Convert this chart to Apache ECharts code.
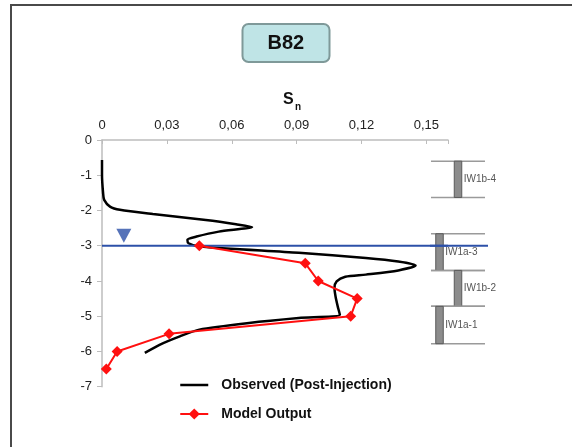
<!DOCTYPE html>
<html><head><meta charset="utf-8">
<script src="https://cdn.jsdelivr.net/npm/echarts@6/dist/echarts.min.js"></script>
<style>html,body{margin:0;padding:0;background:#fff}#c{width:572px;height:447px}</style>
</head><body><div id="c"></div>
<script>
// Observed (Post-Injection) profile: Sn value and depth
var obsS = [0, 0, 0.0005, 0.001, 0.0037, 0.0083, 0.0235, 0.048, 0.062, 0.0694, 0.054, 0.0437, 0.0395, 0.040, 0.045, 0.091, 0.122, 0.137, 0.145, 0.137, 0.122, 0.1125, 0.1085, 0.1075, 0.108, 0.109, 0.110, 0.091, 0.068, 0.045, 0.036, 0.0266, 0.0198];
var obsD = [-0.57, -1.0, -1.5, -1.7, -1.89, -1.98, -2.1, -2.27, -2.39, -2.47, -2.6, -2.74, -2.83, -2.93, -3.02, -3.2, -3.35, -3.45, -3.56, -3.7, -3.82, -3.88, -4.01, -4.2, -4.44, -4.72, -4.96, -5.05, -5.19, -5.38, -5.57, -5.81, -6.04];
// Model output
var modS = [0.045, 0.094, 0.100, 0.118, 0.115, 0.031, 0.007, 0.002];
var modD = [-3.0, -3.5, -4.0, -4.5, -5.0, -5.5, -6.0, -6.5];
// Water level
var waterDepth = -3;
var waterMarkS = 0.0101, waterMarkD = -2.72;
// Well screen intervals
var wellNames = ['IW1b-4', 'IW1a-3', 'IW1b-2', 'IW1a-1'];
var wellTop = [-0.6, -2.66, -3.7, -4.72];
var wellBottom = [-1.63, -3.7, -4.72, -5.78];
var wellType = ['b', 'a', 'b', 'a'];
// Axis ticks
var xTicks = [0, 0.03, 0.06, 0.09, 0.12, 0.15];
var yTicks = [0, -1, -2, -3, -4, -5, -6, -7];

function zip(a, b) { return a.map(function (v, i) { return [v, b[i]]; }); }

var chart = echarts.init(document.getElementById('c'), null, {renderer: 'canvas'});
var FONT = 'Liberation Sans, Arial, sans-serif';
var wellData = wellNames.map(function (n, i) { return [wellTop[i], wellBottom[i], wellType[i] === 'a' ? 0 : 1, i]; });

chart.setOption({
  backgroundColor: '#fff',
  animation: false,
  title: [{
    text: 'B82', left: 242, top: 24,
    padding: [9, 25.5],
    backgroundColor: '#bfe4e6', borderColor: '#7f9999', borderWidth: 2, borderRadius: 6,
    textStyle: {fontFamily: FONT, fontWeight: 'bold', fontSize: 20, color: '#111', lineHeight: 20}
  }],
  graphic: [
    {type: 'polyline', shape: {points: [[11, 447], [11, 5], [572, 5]]}, style: {stroke: '#4a4a4a', lineWidth: 2, fill: null}, silent: true},
    {type: 'text', left: 283, top: 92, style: {text: 'S', font: 'bold 16px ' + FONT, fill: '#111'}},
    {type: 'text', left: 295, top: 102, style: {text: 'n', font: 'bold 10px ' + FONT, fill: '#111'}}
  ],
  legend: {
    orient: 'vertical', left: 174, top: 373, itemWidth: 28, itemHeight: 14, itemGap: 15,
    data: [
      {name: 'Observed (Post-Injection)', itemStyle: {opacity: 0}, lineStyle: {width: 2.5}},
      {name: 'Model Output', lineStyle: {width: 2}}
    ],
    textStyle: {fontFamily: FONT, fontWeight: 'bold', fontSize: 14, color: '#111', padding: [0, 0, 0, 8]}
  },
  grid: [
    {left: 102, right: 124, top: 140, bottom: 60.3},
    {left: 430, width: 58, top: 140, bottom: 60.3}
  ],
  xAxis: [{
    type: 'value', position: 'top', min: 0, max: 0.16, interval: 0.03,
    axisLine: {lineStyle: {color: '#bdbdbd', width: 1.5}},
    axisTick: {inside: true, length: 4, lineStyle: {color: '#bdbdbd'}},
    splitLine: {show: false},
    axisLabel: {margin: 8, fontFamily: FONT, fontSize: 13, color: '#222',
      formatter: function (v) {
        if (v > 0.155) return '';
        if (Math.abs(v) < 1e-9) return '0';
        return v.toFixed(2).replace('.', ',');
      }}
  }, {type: 'value', gridIndex: 1, min: 0, max: 1, show: false}],
  yAxis: [{
    type: 'value', min: -7, max: 0, interval: 1,
    axisLine: {show: true, lineStyle: {color: '#bdbdbd', width: 1.5}},
    axisTick: {show: true, length: 5, lineStyle: {color: '#bdbdbd'}},
    splitLine: {show: false},
    axisLabel: {margin: 10, fontFamily: FONT, fontSize: 13, color: '#222'}
  }, {type: 'value', gridIndex: 1, min: -7, max: 0, show: false}],
  series: [
    {
      name: 'Observed (Post-Injection)', type: 'line', data: zip(obsS, obsD),
      showSymbol: false, symbol: 'none', smooth: 0.25,
      lineStyle: {color: '#000', width: 2.5}, itemStyle: {color: '#000'}, z: 3
    },
    {
      name: 'water', type: 'line', data: [[0, waterDepth], [0.16, waterDepth]],
      symbol: 'none', lineStyle: {color: '#2c50a8', width: 2}, z: 4
    },
    {
      name: 'water2', type: 'line', xAxisIndex: 1, yAxisIndex: 1, data: [[0, waterDepth], [1, waterDepth]],
      symbol: 'none', lineStyle: {color: '#2c50a8', width: 2}, z: 4
    },
    {
      name: 'waterMark', type: 'scatter', data: [[waterMarkS, waterMarkD]],
      symbol: 'triangle', symbolRotate: 180, symbolSize: [15, 14],
      itemStyle: {color: '#2c50a8'}, z: 5
    },
    {
      name: 'Model Output', type: 'line', data: zip(modS, modD),
      symbol: 'diamond', symbolSize: 11, showSymbol: true,
      lineStyle: {color: '#ff1010', width: 2}, itemStyle: {color: '#ff1010'}, z: 6
    },
    {
      name: 'wells', type: 'custom', xAxisIndex: 1, yAxisIndex: 1, data: wellData, z: 2,
      renderItem: function (params, api) {
        var top = api.value(0), bot = api.value(1), t = api.value(2), idx = api.value(3);
        var pL = api.coord([0.017, top]), pR = api.coord([0.948, top]);
        var qL = api.coord([0.017, bot]), qR = api.coord([0.948, bot]);
        var cx = api.coord([t === 0 ? 0.164 : 0.483, top])[0];
        var bw = 7.5;
        var cy = (pL[1] + qL[1]) / 2;
        return {type: 'group', children: [
          {type: 'line', shape: {x1: pL[0], y1: pL[1], x2: pR[0], y2: pR[1]}, style: {stroke: '#9a9a9a', lineWidth: 1.5}},
          {type: 'line', shape: {x1: qL[0], y1: qL[1], x2: qR[0], y2: qR[1]}, style: {stroke: '#9a9a9a', lineWidth: 1.5}},
          {type: 'rect', shape: {x: cx - bw / 2, y: pL[1], width: bw, height: qL[1] - pL[1]}, style: {fill: '#8c8c8c', stroke: '#5a5a5a', lineWidth: 1}},
          {type: 'text', style: {text: wellNames[idx], x: cx + bw / 2 + 2, y: cy, verticalAlign: 'middle', align: 'left', font: '10px ' + FONT, fill: '#555'}}
        ]};
      }
    }
  ]
});
</script></body></html>
